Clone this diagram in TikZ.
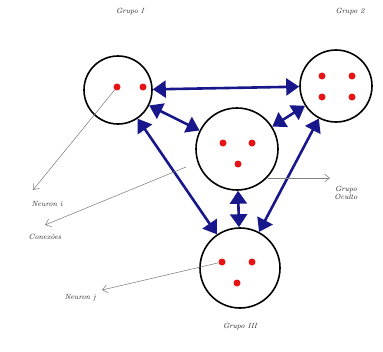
\documentclass[tikz,border=0pt]{standalone}
\usetikzlibrary{arrows.meta}
\definecolor{azulseta}{RGB}{24,24,140}
\definecolor{vermelho}{RGB}{230,20,20}
\tikzset{
    grupo/.style={circle, draw=black, line width=1.6pt, inner sep=0pt},
    neuronio/.style={circle, fill=vermelho, minimum size=7pt, inner sep=0pt},
    conexao/.style={draw=azulseta, line width=2.6pt,
        {Triangle[length=13pt,width=17pt]}-{Triangle[length=13pt,width=17pt]}},
    ponteiro/.style={draw=black!50, line width=0.55pt, -{Straight Barb[length=5pt,width=8pt]}},
    rotulo/.style={font=\fontsize{7.5}{8.5}\selectfont\itshape, text=black!85, align=center}
}
\begin{document}
\begin{tikzpicture}[x=1pt, y=-1pt]
    \useasboundingbox (0,0) rectangle (383,351);

    % grupos
    \node[grupo, minimum size=68pt] (g1) at (118,90) {};
    \node[grupo, minimum size=72pt] (g2) at (336,86) {};
    \node[grupo, minimum size=82pt] (go) at (237,149) {};
    \node[grupo, minimum size=80pt] (g3) at (240,268) {};

    % neuronios
    \node[neuronio] (n11) at (117,87) {};
    \node[neuronio] (n12) at (143,87) {};
    \node[neuronio] (n21) at (322,76) {};
    \node[neuronio] (n22) at (352,76) {};
    \node[neuronio] (n23) at (322,97) {};
    \node[neuronio] (n24) at (352,97) {};
    \node[neuronio] (no1) at (223,143) {};
    \node[neuronio] (no2) at (252,143) {};
    \node[neuronio] (no3) at (238,164) {};
    \node[neuronio] (n31) at (222,262) {};
    \node[neuronio] (n32) at (252,262) {};
    \node[neuronio] (n33) at (237,283) {};

    % conexoes
    \draw[conexao] (g1) -- (g2);
    \draw[conexao] (g1) -- (go);
    \draw[conexao] (g2) -- (go);
    \draw[conexao] (g1) -- (g3);
    \draw[conexao] (g2) -- (g3);
    \draw[conexao] (go) -- (g3);

    % rotulos
    \node[rotulo] (tg1) at (130,12) {Grupo I};
    \node[rotulo] (tg2) at (350,12) {Grupo 2};
    \node[rotulo] (tg3) at (240,327) {Grupo III};
    \node[rotulo] (tni) at (47,204) {Neuron i};
    \node[rotulo] (tcx) at (45,237) {Conex\~oes};
    \node[rotulo] (tgo) at (346,193) {Grupo\\Oculto};
    \node[rotulo] (tnj) at (80,298) {Neuron j};

    % ponteiros
    \coordinate (pni) at (33,190);
    \coordinate (pcx) at (45,225);
    \coordinate (pgo) at (330,178);
    \coordinate (pnj) at (102,290);
    \coordinate (scx) at (186,167);
    \coordinate (sgo) at (268,178);
    \draw[ponteiro] (n11) -- (pni);
    \draw[ponteiro] (scx) -- (pcx);
    \draw[ponteiro] (sgo) -- (pgo);
    \draw[ponteiro] (n31) -- (pnj);
\end{tikzpicture}
\end{document}
